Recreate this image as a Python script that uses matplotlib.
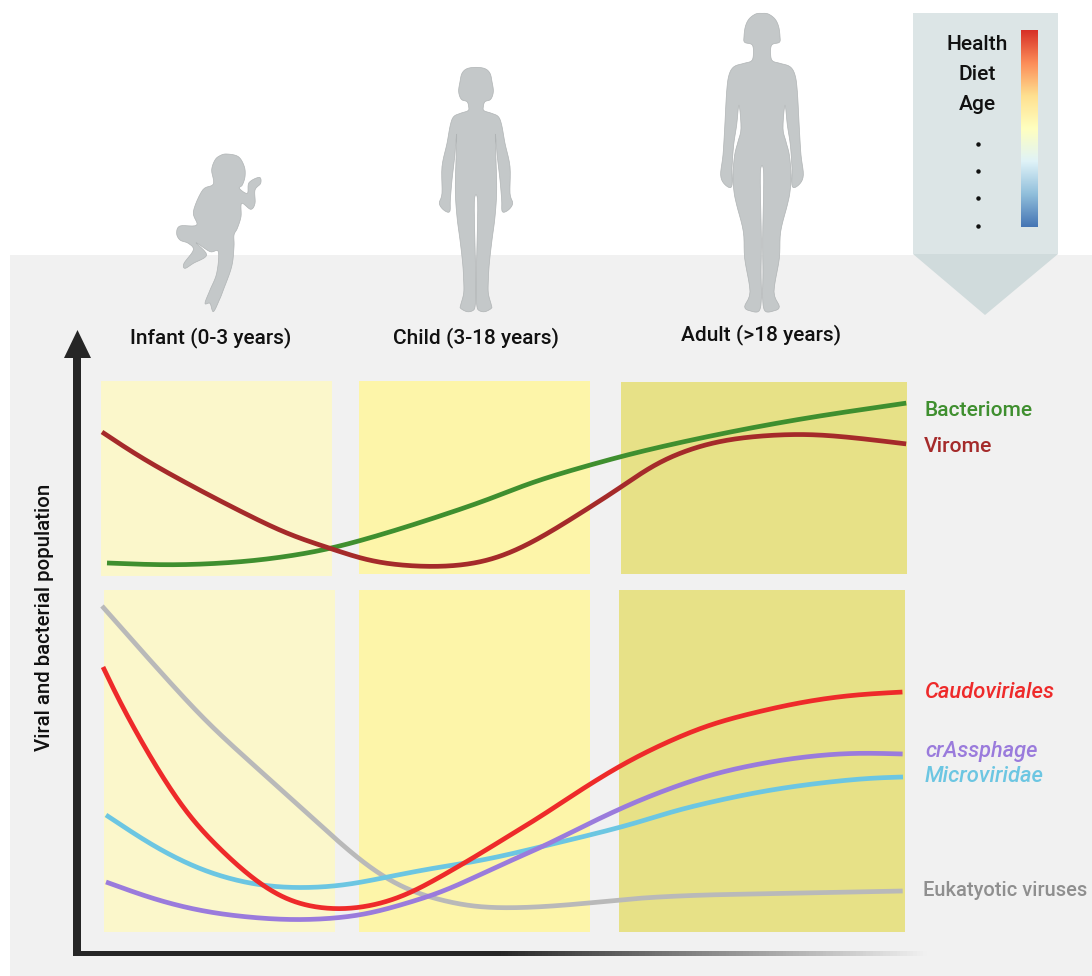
import numpy as np
import matplotlib
matplotlib.use("Agg")
import matplotlib.pyplot as plt
from matplotlib.patches import Rectangle, Polygon
from matplotlib.colors import LinearSegmentedColormap, to_rgb

plt.rcParams['font.family'] = ['Roboto', 'DejaVu Sans']

# ---- data (canvas pixel scale) ----
stages = ["Infant (0-3 years)", "Child (3-18 years)", "Adult (>18 years)"]
axis_title = "Viral and bacterial population"
factors = ["Health", "Diet", "Age"]

bact_x = [107,173,240,290,333,390,440,490,530,590,647,730,813,907]
bact_y = [563,565,562,556,548,532,516,499,483,465,450,432,417,403]
viro_x = [102,140,190,240,290,333,373,433,480,513,547,587,620,653,687,730,797,847,907]
viro_y = [432,457,485,511,535,549,562,567,563,552,534,509,488,465,450,439,434,437,444]
caud_x = [103,123,157,190,223,257,290,317,340,373,407,440,473,507,540,590,640,703,753,803,853,903]
caud_y = [667,708,768,817,852,882,902,908,910,906,895,877,858,837,817,784,755,727,713,702,695,692]
cras_x = [106,157,207,257,297,340,373,407,440,473,507,540,590,640,703,753,803,853,903]
cras_y = [882,900,912,918,920,918,913,903,893,878,862,848,823,800,777,765,757,753,754]
micr_x = [106,157,207,257,297,340,373,407,440,473,507,540,590,640,670,720,770,820,870,903]
micr_y = [815,848,872,885,888,886,880,873,867,862,855,847,835,822,812,800,790,783,778,777]
euka_x = [102,157,207,257,307,340,373,407,440,473,507,540,590,640,703,753,903]
euka_y = [606,668,722,768,813,843,870,890,900,907,908,907,903,898,895,894,891]


def smooth(xs, ys, n=16, closed=False):
    """Catmull-Rom path through the read points."""
    p = np.column_stack([xs, ys]).astype(float)
    if closed:
        q = np.vstack([p[-1], p, p[0], p[1]])
    else:
        q = np.vstack([2 * p[0] - p[1], p, 2 * p[-1] - p[-2]])
    out = []
    t = np.linspace(0, 1, n, endpoint=False)[:, None]
    for i in range(len(q) - 3):
        a, b, c, d = q[i:i + 4]
        out.append(0.5 * (2 * b + (c - a) * t + (2 * a - 5 * b + 4 * c - d) * t ** 2
                          + (3 * b - a - 3 * c + d) * t ** 3))
    out.append(q[-2][None, :])
    return np.vstack(out)


def ironed(xs, ys, sigma=20.0):
    """Remove small reading jitter, keeping both end points."""
    s = smooth(xs, ys)
    d = np.r_[0, np.cumsum(np.hypot(*np.diff(s, axis=0).T))]
    u = np.arange(0, d[-1], 1.0)
    x, y = np.interp(u, d, s[:, 0]), np.interp(u, d, s[:, 1])
    r = int(3 * sigma)
    k = np.exp(-0.5 * (np.arange(-r, r + 1) / sigma) ** 2)
    k /= k.sum()
    res = []
    for v in (x, y):
        pad = np.r_[2 * v[0] - v[r:0:-1], v, 2 * v[-1] - v[-2:-r - 2:-1]]
        res.append(np.convolve(pad, k, mode="valid"))
    return res[0], res[1]


fig = plt.figure(figsize=(10.92, 9.76), dpi=100)
ax = fig.add_axes([0, 0, 1, 1])
ax.axis("off")

# ---- backgrounds ----
ax.add_patch(Rectangle((10, 255), 1082, 721, fc="#f1f1f1", ec="none", zorder=0))

pale, mid, deep = "#fbf7cb", "#fdf5a9", "#e7e187"
for (x0, y0, x1, y1, c) in [(101,381,332,576,pale), (359,381,590,574,mid), (621,382,907,574,deep),
                            (104,590,335,932,pale), (359,590,590,932,mid), (619,590,905,932,deep)]:
    ax.add_patch(Rectangle((x0, y0), x1 - x0, y1 - y0, fc=c, ec="none", zorder=1))

# ---- legend flag ----
ax.add_patch(Rectangle((913, 13), 145, 241, fc="#dce5e6", ec="none", zorder=1))
ax.add_patch(Polygon([(913, 254), (1058, 254), (985, 315)], fc="#d0dbdc", ec="none", zorder=1))
cmap = LinearSegmentedColormap.from_list(
    "f", ["#d73027", "#fc8d59", "#fee090", "#ffffbf", "#e0f3f8", "#91bfdb", "#4575b4"])
ax.imshow(np.linspace(0, 1, 256)[:, None], cmap=cmap, extent=(1021, 1038, 227, 30),
          aspect="auto", zorder=2)
for lab, y in zip(factors, [44, 74, 104]):
    ax.text(977, y, lab, ha="center", va="center", fontsize=15.1, fontweight="medium", color="#111111", zorder=3)
ax.plot([977.5] * 4, [144, 171, 198, 226], ls="none", marker="o", ms=2.2, color="#111111", zorder=3)

# ---- silhouettes ----
sil = "#c4c8c9"
infant = [(200,42),(235,50),(253,80),(255,110),(247,135),(238,145),(262,160),(267,128),(298,112),(302,130),
          (285,150),(285,190),(272,208),(245,190),(243,230),(232,265),(222,285),(222,320),(215,380),
          (190,450),(178,480),(160,515),(150,490),(135,490),(150,450),(170,400),(175,335),(150,335),
          (108,308),(140,345),(100,370),(75,385),(72,370),(100,330),(85,310),(60,300),(50,280),
          (60,258),(110,255),(100,215),(128,150),(160,132),(155,90),(165,60),(180,47)]
ipx = np.array(infant) / 3 + (160, 140)
ax.add_patch(Polygon(smooth(ipx[:, 0], ipx[:, 1], 6, closed=True), fc=sil, ec="#b0b4b5", lw=0.5, zorder=2))


def figure(half, cx, ox, oy):
    h = np.array(half, float)
    m = h[::-1][:-1].copy()
    m[:, 0] = 2 * cx - m[:, 0]
    pts = np.vstack([h, m]) / 3 + (ox, oy)
    ax.add_patch(Polygon(smooth(pts[:, 0], pts[:, 1], 5, closed=True), fc=sil, ec="#b0b4b5", lw=0.5, zorder=2))


figure([(168,22),(195,26),(210,40),(216,65),(220,95),(212,118),(195,125),(190,140),(192,152),(215,160),
        (235,170),(245,195),(255,250),(270,320),(270,400),(278,430),(265,450),(247,455),(245,420),
        (240,360),(232,290),(226,222),(228,300),(230,370),(229,420),(224,480),(216,540),(208,610),
        (205,660),(205,700),(214,735),(214,745),(195,755),(178,752),(171,740),(169,700),(170,600),(173,425)],
       168, 420, 60)
figure([(186,25),(205,27),(225,42),(236,65),(240,95),(238,112),(215,120),(212,150),(218,168),(240,175),
        (270,185),(285,210),(292,260),(298,370),(303,450),(310,510),(298,538),(277,545),(276,490),
        (271,420),(262,360),(255,300),(249,370),(258,410),(268,450),(273,510),(270,560),(262,600),
        (242,680),(238,760),(222,860),(238,905),(220,918),(195,918),(188,880),(189,800),(188,700),(191,505)],
       186, 700, 5)

for lab, x, y in zip(stages, [211, 476, 761], [338, 338, 335]):
    ax.text(x, y, lab, ha="center", va="center", fontsize=15.0, fontweight="medium", color="#111111", zorder=3)

# ---- axes arrows ----
dark = "#262626"
ax.add_patch(Rectangle((73, 358), 8, 598, fc=dark, ec="none", zorder=3))
ax.add_patch(Polygon([(64, 358), (91, 358), (77.5, 330)], fc=dark, ec="none", zorder=3))
grad = np.ones((1, 256, 4))
grad[..., :3] = to_rgb(dark)
grad[..., 3] = np.clip((930 - np.linspace(73, 930, 256)) / 430, 0, 1)
ax.imshow(grad, extent=(73, 930, 956, 951), aspect="auto", zorder=3)
ax.text(45, 617, axis_title, rotation=90, ha="center", va="center", fontsize=14.7, fontweight="medium",
        color="#111111", zorder=3)

# ---- curves ----
series = [(euka_x, euka_y, "#b9b9b9"), (micr_x, micr_y, "#6cc6e2"), (cras_x, cras_y, "#9a7bdc"),
          (caud_x, caud_y, "#ee2a2a"), (bact_x, bact_y, "#3f8f2f"), (viro_x, viro_y, "#a52a2a")]
for xs, ys, c in series:
    sx, sy = ironed(xs, ys)
    ax.plot(sx, sy, color=c, lw=3.4, solid_capstyle="butt", zorder=4)

labels = [("Bacteriome", 925, 410, "#3f8f2f", "normal", 15.1),
          ("Virome", 924, 446, "#a52a2a", "normal", 15.3),
          ("Caudoviriales", 924, 692, "#ee2a2a", "italic", 15.8),
          ("crAssphage", 925, 752, "#9a7bdc", "italic", 15.7),
          ("Microviridae", 925, 777, "#6cc6e2", "italic", 15.8),
          ("Eukatyotic viruses", 923, 891, "#8f8f8f", "normal", 14.5)]
for t, x, y, c, st, fs in labels:
    ax.text(x, y, t, ha="left", va="center", fontsize=fs, fontweight="medium", color=c, style=st, zorder=5)

ax.set_xlim(0, 1092)
ax.set_ylim(976, 0)
fig.savefig("out.png", dpi=100, facecolor="white")
